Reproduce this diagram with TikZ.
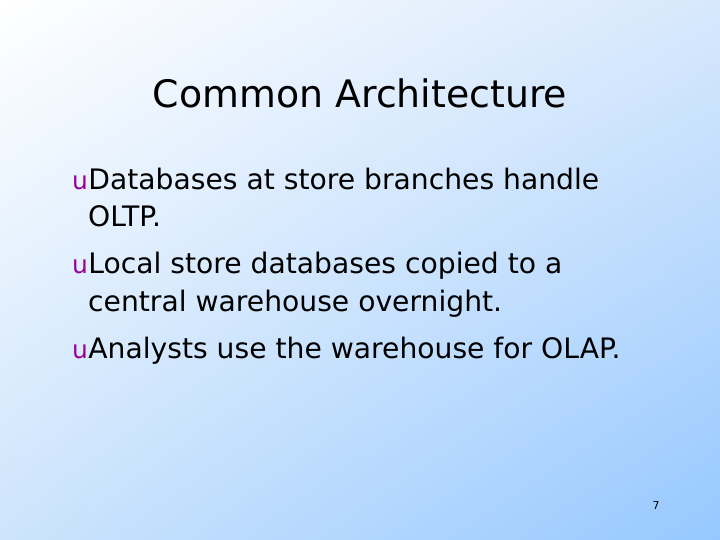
\documentclass[tikz,border=0pt]{standalone}
\usepackage{fontspec}
\usetikzlibrary{shadings}
\setmainfont{DejaVu Sans}
\definecolor{bgA}{RGB}{255,255,255}
\definecolor{bgB}{RGB}{215,232,252}
\definecolor{bgC}{RGB}{205,228,252}
\definecolor{bgD}{RGB}{150,200,255}
\definecolor{bulc}{RGB}{153,0,153}
\begin{document}
\begin{tikzpicture}[x=1bp,y=-1bp,
  body/.style={anchor=base west,inner sep=0pt,font=\fontsize{28.3}{32}\selectfont},
  bul/.style={anchor=base west,inner sep=0pt,text=bulc,font=\fontsize{25}{30}\selectfont}]
\shade[upper left=bgA,upper right=bgB,lower left=bgC,lower right=bgD] (0,0) rectangle (720,540);
\useasboundingbox (0,0) rectangle (720,540);
\node[anchor=base,inner sep=0pt,font=\fontsize{38}{42}\selectfont] (title) at (360,108) {Common Architecture};
\node[bul] (b1) at (72,190) {u};
\node[body] (t1) at (b1.base east) {Databases at store branches handle};
\node[body] (t1b) at (88,227) {OLTP.};
\node[bul] (b2) at (72,274) {u};
\node[body] (t2) at (b2.base east) {Local store databases copied to a};
\node[body] (t2b) at (88,311) {central warehouse overnight.};
\node[bul] (b3) at (72,358) {u};
\node[body] (t3) at (b3.base east) {Analysts use the warehouse for OLAP.};
\node[anchor=base,inner sep=0pt,font=\fontsize{11}{13}\selectfont] (pg) at (656,509) {7};
\end{tikzpicture}
\end{document}
